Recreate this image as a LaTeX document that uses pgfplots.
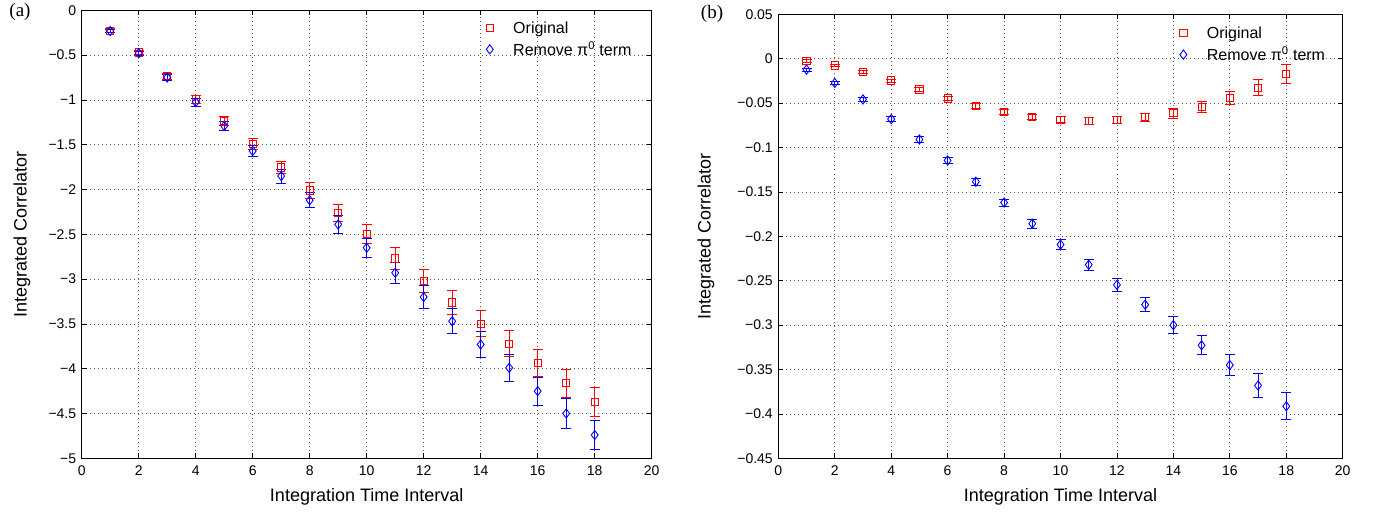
\documentclass[border=0pt]{standalone}
\usepackage{pgfplots}
\pgfplotsset{compat=1.18}
\usepackage{pgfplotstable}
\usepackage{fontspec}
\setmainfont{Liberation Sans}
\newfontfamily\serifpanel{Liberation Serif}
\definecolor{mred}{rgb}{1,0,0}
\definecolor{mblue}{rgb}{0,0,1}

% x, value, error
\pgfplotstableread{
x y e
1 -0.228 0.02
2 -0.47 0.025
3 -0.735 0.035
4 -0.995 0.045
5 -1.235 0.05
6 -1.495 0.06
7 -1.755 0.07
8 -2.01 0.085
9 -2.26 0.095
10 -2.50 0.105
11 -2.77 0.12
12 -3.02 0.125
13 -3.26 0.135
14 -3.50 0.145
15 -3.72 0.148
16 -3.94 0.15
17 -4.16 0.157
18 -4.37 0.16
}\origA
\pgfplotstableread{
x y e
1 -0.232 0.02
2 -0.48 0.025
3 -0.75 0.035
4 -1.025 0.045
5 -1.29 0.05
6 -1.57 0.065
7 -1.85 0.078
8 -2.12 0.085
9 -2.39 0.098
10 -2.65 0.107
11 -2.93 0.12
12 -3.20 0.126
13 -3.47 0.137
14 -3.73 0.144
15 -3.99 0.154
16 -4.25 0.155
17 -4.50 0.163
18 -4.74 0.163
}\nopiA
\pgfplotstableread{
x y e
1 -0.0027 0.0015
2 -0.0075 0.0015
3 -0.015 0.0015
4 -0.0246 0.0018
5 -0.0347 0.002
6 -0.0448 0.0022
7 -0.0534 0.0025
8 -0.060 0.0027
9 -0.0653 0.003
10 -0.0687 0.0032
11 -0.0702 0.0035
12 -0.069 0.004
13 -0.066 0.0045
14 -0.0615 0.0054
15 -0.054 0.0063
16 -0.0444 0.0075
17 -0.0325 0.0088
18 -0.0176 0.0106
}\origB
\pgfplotstableread{
x y e
1 -0.0123 0.0015
2 -0.0273 0.0018
3 -0.0459 0.002
4 -0.068 0.0025
5 -0.091 0.003
6 -0.1146 0.0033
7 -0.1385 0.0037
8 -0.162 0.004
9 -0.1857 0.0052
10 -0.2093 0.0054
11 -0.232 0.0064
12 -0.2547 0.007
13 -0.277 0.008
14 -0.300 0.0092
15 -0.3227 0.0105
16 -0.345 0.0118
17 -0.368 0.0135
18 -0.3914 0.015
}\nopiB

\pgfplotsset{
  matlab/.style={
    scale only axis,
    anchor=south west,
    xmin=0, xmax=20,
    xtick={0,2,...,20},
    axis line style={line width=1pt},
    tick pos=both, tick align=inside,
    major tick length=5pt,
    tick style={black, line width=0.8pt},
    grid=major,
    grid style={line width=0.8pt, black!65, dash pattern=on 0.8pt off 3.2pt},
    /pgf/number format/assume math mode=true,
    ticklabel style={font=\fontsize{14}{16}\selectfont},
    xticklabel style={yshift=-4pt},
    yticklabel style={xshift=-2pt},
    xlabel={Integration Time Interval},
    ylabel={Integrated Correlator},
    label style={font=\fontsize{18}{21}\selectfont},
    xlabel style={at={(axis description cs:0.5,-0.087)}, anchor=center},
    legend style={draw=none, fill=none, inner sep=0pt, row sep=3pt,
      font=\fontsize{16}{18}\selectfont, anchor=north west},
    legend cell align=left,
  },
  % #1 = pgf colour, #2 = the same colour for the driver's colour stack
  series/.style n args={2}{color=#1, only marks, line width=0.9pt,
    execute at begin plot visualization={\special{color push rgb #2}},
    execute at end plot visualization={\special{color pop}},
    legend image code/.code={
      \special{color push rgb #2}
      \path (0pt,0pt) (30pt,0pt);
      \draw[mark repeat=2, mark phase=2, ##1] plot coordinates {(0pt,0pt) (9pt,0pt) (18pt,0pt)};
      \special{color pop}
    },
    error bars/.cd, y dir=both, y explicit,
    error bar style={line width=0.9pt},
    error mark options={rotate=90, mark size=5pt, line width=0.9pt}},
  origstyle/.style={mark=square, mark size=3.6pt, series={mred}{1 0 0}},
  nopistyle/.style={mark=diamond, mark size=4.6pt, series={mblue}{0 0 1}},
}

\begin{document}
\begin{tikzpicture}[x=1pt, y=1pt]
\useasboundingbox (0pt,0pt) rectangle (1378pt,512pt);

\node[font=\serifpanel\fontsize{19}{21}\selectfont] at (20pt,500pt) {(a)};
\node[font=\serifpanel\fontsize{19}{21}\selectfont] at (712pt,498pt) {(b)};

\begin{axis}[matlab,
    at={(81.7pt,53.7pt)}, width=570pt, height=448pt,
    ymin=-5, ymax=0,
    ytick={-5,-4.5,-4,-3.5,-3,-2.5,-2,-1.5,-1,-0.5,0},
    yticklabels={−5,−4.5,−4,−3.5,−3,−2.5,−2,−1.5,−1,−0.5,0},
    ylabel style={at={(axis description cs:-0.105,0.5)}, anchor=center},
    legend style={at={(axis description cs:0.699,0.98)}},
  ]
  \addplot[origstyle] table[x=x, y=y, y error=e] {\origA};
  \addlegendentry{Original}
  \addplot[nopistyle] table[x=x, y=y, y error=e] {\nopiA};
  \addlegendentry{Remove π\textsuperscript{0} term}
\end{axis}

\begin{axis}[matlab,
    at={(778.3pt,53.7pt)}, width=564.4pt, height=444pt,
    ymin=-0.45, ymax=0.05,
    ytick={-0.45,-0.4,-0.35,-0.3,-0.25,-0.2,-0.15,-0.1,-0.05,0,0.05},
    yticklabels={−0.45,−0.4,−0.35,−0.3,−0.25,−0.2,−0.15,−0.1,−0.05,0,0.05},
    ylabel style={at={(axis description cs:-0.128,0.5)}, anchor=center},
    legend style={at={(axis description cs:0.7006,0.977)}},
  ]
  \addplot[origstyle] table[x=x, y=y, y error=e] {\origB};
  \addlegendentry{Original}
  \addplot[nopistyle] table[x=x, y=y, y error=e] {\nopiB};
  \addlegendentry{Remove π\textsuperscript{0} term}
\end{axis}
\end{tikzpicture}
\end{document}
